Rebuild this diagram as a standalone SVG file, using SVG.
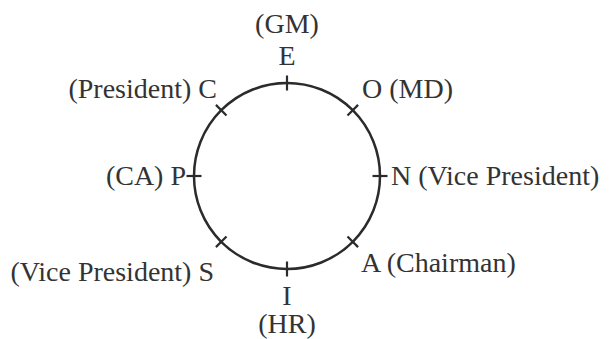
<svg xmlns="http://www.w3.org/2000/svg" width="610" height="339" viewBox="0 0 610 339">
<style>
text{font-family:"Liberation Serif","Times New Roman",serif;font-size:28px;fill:#333}
.c{fill:none;stroke:#2b2b2b;stroke-width:2.5}
.t{stroke:#2b2b2b;stroke-width:2.2;fill:none}
</style>
<rect width="610" height="339" fill="#fff"/>
<g id="ring"><circle class="c" cx="287" cy="176" r="93"/></g>
<g id="connectors">
<line class="t" x1="287" y1="75.5" x2="287" y2="90.5"/>
<line class="t" x1="287" y1="261.5" x2="287" y2="276.5"/>
<line class="t" x1="186.5" y1="176" x2="201.5" y2="176"/>
<line class="t" x1="372.5" y1="176" x2="387.5" y2="176"/>
<line class="t" x1="215.9" y1="104.9" x2="226.5" y2="115.5"/>
<line class="t" x1="358.1" y1="104.9" x2="347.5" y2="115.5"/>
<line class="t" x1="215.9" y1="247.1" x2="226.5" y2="236.5"/>
<line class="t" x1="358.1" y1="247.1" x2="347.5" y2="236.5"/>
</g>
<g id="E"><text x="287" y="33" text-anchor="middle">(GM)</text><text x="287" y="65" text-anchor="middle">E</text></g>
<g id="C"><text x="217" y="98" text-anchor="end">(President) C</text></g>
<g id="O"><text x="362" y="98">O (MD)</text></g>
<g id="P"><text x="186" y="185" text-anchor="end">(CA) P</text></g>
<g id="N"><text x="391" y="185">N (Vice President)</text></g>
<g id="A"><text x="361" y="272">A (Chairman)</text></g>
<g id="S"><text x="214" y="281" text-anchor="end">(Vice President) S</text></g>
<g id="I"><text x="287" y="305" text-anchor="middle">I</text><text x="287" y="333" text-anchor="middle">(HR)</text></g>
</svg>
